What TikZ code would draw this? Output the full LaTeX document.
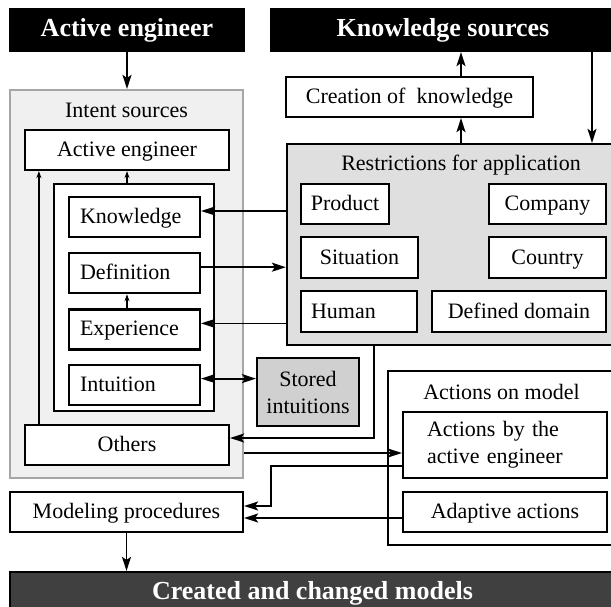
\documentclass[tikz,border=0pt]{standalone}
\usepackage{fontspec}
\setmainfont{Liberation Serif}
\usetikzlibrary{arrows.meta}
\usetikzlibrary{positioning}

\begin{document}
\begin{tikzpicture}[>={Stealth[length=14pt,width=9pt,inset=3pt]}, x=1pt, y=-1pt, line width=1.8pt]
    \useasboundingbox (0,0) rectangle (611,607);
      \tikzstyle{base} = [draw, line width=2.2pt, fill=white, minimum height=40pt, inner sep=3pt,
         font=\fontsize{22}{27}\selectfont, align=center]
      \tikzstyle{box} = [base, text height=16pt, text depth=3pt]
      \tikzstyle{banner} = [box, fill=black, text=white, minimum height=42pt, text height=19pt, text depth=5pt,
         font=\fontsize{26}{30}\selectfont\bfseries]
      \tikzstyle{frame} = [base, minimum height=0pt]
      \tikzstyle{title} = [font=\fontsize{22}{27}\selectfont, inner sep=3pt]
      \tikzstyle{item} = [box, minimum width=131pt, text width=109pt, inner xsep=11pt, align=left]
      \tikzstyle{tiny} = [-{Stealth[length=7pt,width=5pt]}]
      %nodes
      \node[banner, minimum width=234pt] (engineer') at (127,30) {Active engineer};
      \node[banner, minimum width=344pt] (ksources') at (443,30) {Knowledge sources};
      \node[box, minimum width=247pt]    (creation') at (409.5,97) {Creation of~ knowledge};

      \node[frame, draw=gray!70, fill=gray!12, minimum width=233pt, minimum height=388pt] (intent') at (126.5,284) {};
      \node[title, below=10pt of intent'.north] (intentT') {Intent sources};
      \node[box, minimum width=204pt] (aeng') at (127,150) {Active engineer};
      \node[frame, minimum width=160pt, minimum height=227pt] (inner') at (134,297.5) {};
      \node[item] (know') at (134.5,217) {Knowledge};
      \node[item, below=14pt of know']  (defin') {Definition};
      \node[item, below=14pt of defin'] (exper') {Experience};
      \node[item, below=13pt of exper'] (intui') {Intuition};
      \node[box, minimum width=204pt] (others') at (127,445) {Others};
      \node[base, fill=gray!37, minimum width=102pt, minimum height=68pt] (stored') at (308,392) {Stored\\intuitions};

      \node[frame, fill=gray!25, minimum width=328pt, minimum height=201pt] (restr') at (451,244.5) {};
      \node[title, below=8pt of restr'.north, xshift=10pt] (restrT') {Restrictions for application};
      \node[box, minimum width=88pt]  (product') at (345,204) {Product};
      \node[box, minimum width=117pt] (company') at (547.5,204) {Company};
      \node[box, minimum width=117pt, minimum height=41pt] (situation') at (359.5,257.5) {Situation};
      \node[box, minimum width=117pt, minimum height=41pt] (country') at (547.5,257.5) {Country};
      \node[box, minimum width=116pt, minimum height=41pt, text width=96pt, inner xsep=10pt, align=left] (human') at (359,311.5) {Human};
      \node[box, minimum width=174pt, minimum height=41pt] (domain') at (519,311.5) {Defined domain};

      \node[frame, minimum width=227pt, minimum height=174pt] (actions') at (501.5,458) {};
      \node[title, below=10pt of actions'.north] (actionsT') {Actions on model};
      \node[base, minimum width=204pt, minimum height=66pt, text width=156pt, align=left] (byeng') at (505,445) {Actions by the\\active engineer};
      \node[box, minimum width=204pt] (adapt') at (505,512) {Adaptive actions};
      \node[box, minimum width=233pt] (modeling') at (126.5,512) {Modeling procedures};
      \node[banner, fill=black!75, minimum width=605pt, minimum height=40pt] (models') at (312.5,592) {Created and changed models};

      %lines
      \draw[->] (engineer'.south) -- (engineer'.south |- intent'.north);
      \draw[->] ([xshift=10pt]restr'.north) -- ([xshift=10pt]restr'.north |- creation'.south);
      \draw[->] ([xshift=51.5pt]creation'.north) -- ([xshift=51.5pt]creation'.north |- ksources'.south);
      \draw[->] ([xshift=149pt]ksources'.south) -- ([xshift=149pt]ksources'.south |- restr'.north);
      \draw[->] ([yshift=6pt]know'.east -| restr'.west) -- ([yshift=6pt]know'.east);
      \draw[->] ([yshift=6pt]defin'.east) -- ([yshift=6pt]defin'.east -| restr'.west);
      \draw[->] ([yshift=6pt]exper'.east -| restr'.west) -- ([yshift=6pt]exper'.east);
      \draw[<->] ([yshift=6pt]intui'.east) -- ([yshift=6pt]intui'.east -| stored'.west);
      \draw[->] ([xshift=-77pt]restr'.south) |- ([yshift=7pt]others'.east);
      \draw[->] ([yshift=-8pt]byeng'.west -| intent'.east) -- ([yshift=-8pt]byeng'.west);
      \draw[->] ([yshift=-21pt]byeng'.west) -- ++(-131pt,0) |- ([yshift=6pt]modeling'.east);
      \draw[->] ([yshift=-6pt]adapt'.west) -- ([yshift=-6pt]adapt'.west -| modeling'.east);
      \draw[->] (modeling'.south) -- (modeling'.south |- models'.north);
      \draw[tiny] (aeng'.south |- inner'.north) -- (aeng'.south);
      \draw[tiny] ([xshift=-7.5pt]exper'.north) -- ([xshift=-7.5pt]defin'.south);
      \draw[tiny] ([xshift=15pt]others'.north west) -- ([xshift=15pt]others'.north west |- aeng'.south);
    \end{tikzpicture}
\end{document}
